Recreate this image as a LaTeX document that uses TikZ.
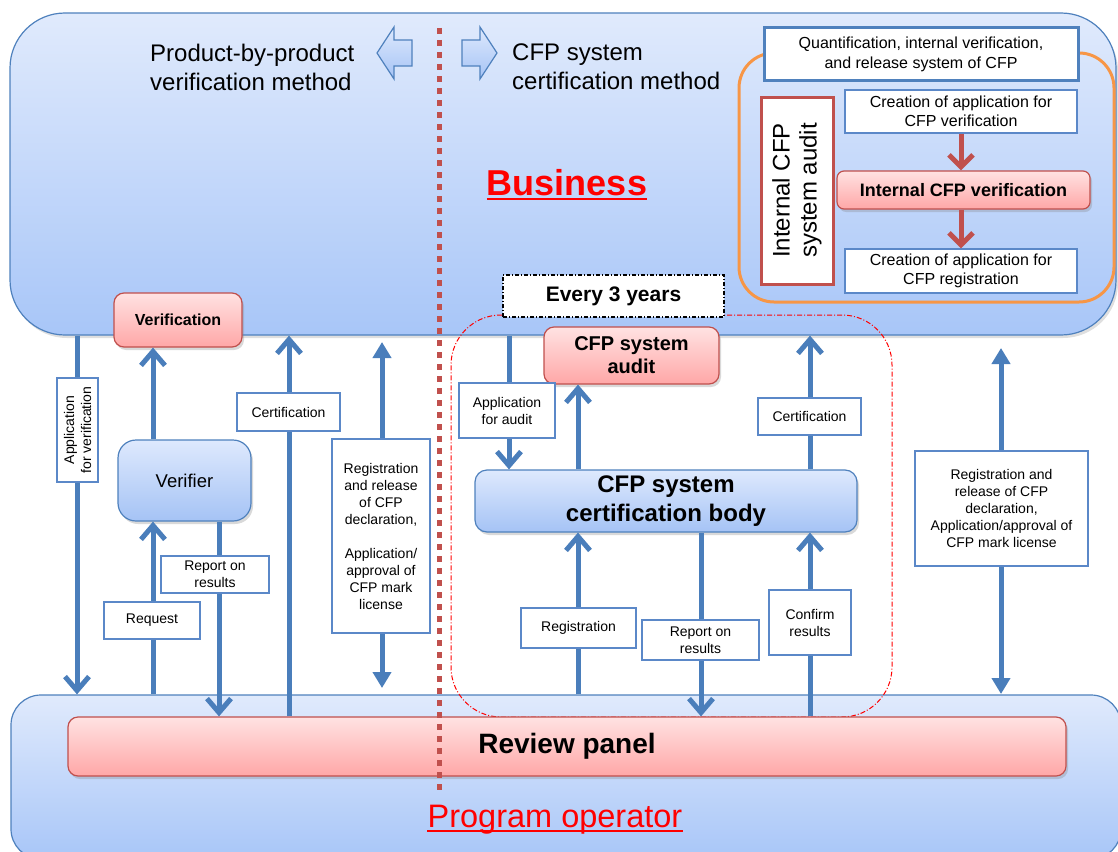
\documentclass[tikz,border=0pt]{standalone}
\usepackage{fontspec}
\setmainfont{Liberation Sans}
\usetikzlibrary{arrows.meta,shadows}
\newcommand\fs[2]{\fontsize{#1}{#2}\selectfont}
\definecolor{boxblue}{HTML}{4F81BD}
\definecolor{lblbd}{HTML}{5B88C8}
\definecolor{arrowblue}{HTML}{4A7EBB}
\definecolor{bgtop}{HTML}{E0EAFC}
\definecolor{bgbot}{HTML}{A8C6F8}
\definecolor{ntop}{HTML}{DEE9FD}
\definecolor{nbot}{HTML}{A5C3F5}
\definecolor{ptop}{HTML}{FFE2E2}
\definecolor{pbot}{HTML}{FFA7A7}
\definecolor{pinkbd}{HTML}{C0504D}
\definecolor{orangebd}{HTML}{F79646}
\definecolor{redtxt}{HTML}{FF0000}
\begin{document}
\begin{tikzpicture}[x=1pt,y=-1pt,
  bgbox/.style={draw=boxblue, line width=1.2pt, top color=bgtop, bottom color=bgbot, inner sep=0pt},
  bluenode/.style={draw=boxblue, line width=1.2pt, top color=ntop, bottom color=nbot, align=center,
     drop shadow={opacity=0.3, shadow xshift=2pt, shadow yshift=-3pt}},
  pinknode/.style={draw=pinkbd, line width=1.2pt, top color=ptop, bottom color=pbot, align=center,
     rounded corners=10pt, drop shadow={opacity=0.3, shadow xshift=2pt, shadow yshift=-3pt}},
  lbl/.style={draw=lblbd, line width=1.2pt, fill=white, align=center, font=\fs{14}{17}, inner sep=1pt},
  wbox/.style={draw=lblbd, line width=1.2pt, fill=white, align=center, font=\fs{16}{19.5}, inner sep=1pt},
  flow/.style={draw=arrowblue, line width=5pt, -{Straight Barb[length=14pt,width=24pt]}},
  dflow/.style={draw=arrowblue, line width=5pt, {Triangle[length=16pt,width=18pt]}-{Triangle[length=16pt,width=18pt]}},
  rflow/.style={draw=pinkbd, line width=5pt, -{Straight Barb[length=12pt,width=24pt]}},
  barrow/.style={draw=boxblue, line width=1.2pt, top color=ntop, bottom color=nbot},
  ttl/.style={align=left, font=\fs{24}{29}, inner sep=0pt, anchor=west}
]
\useasboundingbox (0,0) rectangle (1118,851);

% backgrounds
\node[bgbox, rounded corners=55pt, minimum width=1106pt, minimum height=322pt,
  drop shadow={opacity=0.25, shadow xshift=2pt, shadow yshift=-3pt}] (business) at (563,174) {};
\node[bgbox, rounded corners=30pt, minimum width=1110pt, minimum height=164pt] (oper) at (566,777) {};

% column coordinates
\coordinate (xA) at (77,0);
\coordinate (xB) at (153,0);
\coordinate (xC) at (219,0);
\coordinate (xD) at (289,0);
\coordinate (xF) at (509,0);
\coordinate (xG) at (578,0);
\coordinate (xH) at (701,0);
\coordinate (xI) at (810,0);
\coordinate (e1) at (382,342);
\coordinate (e2) at (382,688);
\coordinate (j1) at (1001,348);
\coordinate (j2) at (1001,694);
\coordinate (dtop) at (439,28);
\coordinate (dbot) at (439,793);

% top right process
\node[draw=orangebd, line width=3pt, rounded corners=35pt, minimum width=375pt, minimum height=249pt] (orangebox) at (926.5,177.5) {};
\node[draw=boxblue, line width=3pt, fill=white, align=center, font=\fs{16}{20}, minimum width=314pt, minimum height=52pt, inner sep=1pt] (quant) at (921,54) {Quantification, internal verification,\\and release system of CFP};
\node[draw=pinkbd, line width=3pt, fill=white, align=center, font=\fs{24}{27}, rotate=90, minimum width=187pt, minimum height=72pt, inner sep=1pt] (icsa) at (797,190.5) {Internal CFP\\system audit};
\node[wbox, minimum width=232pt, minimum height=43pt] (cr1) at (961,111.5) {Creation of application for\\CFP verification};
\node[pinknode, rounded corners=7pt, font=\fs{18}{20}\bfseries, minimum width=253pt, minimum height=38pt] (icv) at (963.5,190) {Internal CFP verification};
\node[wbox, minimum width=232pt, minimum height=44pt] (cr2) at (961,271) {Creation of application for\\CFP registration};
\draw[rflow] (cr1.south) -- (cr1.south |- icv.north);
\draw[rflow] (icv.south -| cr2.north) -- (cr2.north);

% block arrows and titles
\draw[barrow] (412,40) -- (394,40) -- (394,27) -- (377,53) -- (394,79) -- (394,66) -- (412,66) -- cycle;
\draw[barrow] (462,40) -- (480,40) -- (480,27) -- (497,53) -- (480,79) -- (480,66) -- (462,66) -- cycle;
\node[ttl] (ptitle) at (150,67.5) {Product-by-product\\verification method};
\node[ttl] (ctitle) at (512,66.5) {CFP system\\certification method};

% Business label
\node[inner sep=0pt, anchor=base, text=redtxt, font=\fs{36}{40}\bfseries] (bus) at (567,195) {Business};
\draw[redtxt, line width=2.4pt] ([yshift=-4pt]bus.base west) -- ([yshift=-4pt]bus.base east);

% dash-dot region and every 3 years
\node[draw=redtxt, line width=1pt, dash pattern=on 5pt off 2pt on 1pt off 2pt, rounded corners=50pt,
  minimum width=441pt, minimum height=402pt] (region) at (671.5,516) {};
\node[draw=black, line width=1.2pt, dash pattern=on 4pt off 2pt on 1pt off 2pt, fill=white,
  font=\fs{21}{24}\bfseries, minimum width=221pt, minimum height=42pt, inner sep=1pt] (every) at (613.5,296) {Every 3 years};

% main nodes
\node[pinknode, font=\fs{28}{30}\bfseries, minimum width=998pt, minimum height=59pt] (review) at (567,746.5) {Review panel};
\node[pinknode, font=\fs{16}{19}\bfseries, minimum width=128pt, minimum height=54pt] (verif) at (178,320) {Verification};
\node[pinknode, font=\fs{20}{23}\bfseries, minimum width=175pt, minimum height=57pt, inner sep=1pt] (audit) at (631.5,355.5) {CFP system\\audit};
\node[bluenode, rounded corners=18pt, font=\fs{18.5}{21}, minimum width=133pt, minimum height=81pt] (verifier) at (184.5,480.5) {Verifier};
\node[bluenode, rounded corners=12pt, font=\fs{24}{29}\bfseries, minimum width=382pt, minimum height=62pt, inner sep=1pt] (body) at (666,501) {CFP system\\certification body};

% connectors
\draw[flow] (business.south -| xA) -- (oper.north -| xA);
\draw[flow] (verifier.north -| xB) -- (verif.south -| xB);
\draw[flow] (oper.north -| xB) -- (verifier.south -| xB);
\draw[flow] (verifier.south -| xC) -- (review.north -| xC);
\draw[flow] (review.north -| xD) -- (business.south -| xD);
\draw[dflow] (e1) -- (e2);
\draw[flow] (business.south -| xF) -- (body.north -| xF);
\draw[flow] (body.north -| xG) -- (audit.south -| xG);
\draw[flow] (body.north -| xI) -- (business.south -| xI);
\draw[flow] (oper.north -| xG) -- (body.south -| xG);
\draw[flow] (body.south -| xH) -- (review.north -| xH);
\draw[flow] (review.north -| xI) -- (body.south -| xI);
\draw[dflow] (j1) -- (j2);

% labels
\node[lbl, rotate=90, minimum width=104pt, minimum height=41pt] (lA) at (77.5,430) {Application\\for verification};
\node[lbl, minimum width=96pt, minimum height=37pt] (lReq) at (152,620.5) {Request};
\node[lbl, minimum width=108pt, minimum height=37pt] (lRep1) at (215,574.5) {Report on\\results};
\node[lbl, minimum width=103pt, minimum height=38pt] (lCert1) at (288.5,412) {Certification};
\node[lbl, minimum width=98pt, minimum height=194pt] (lReg1) at (381,536) {Registration\\and release\\of CFP\\declaration,\\[17pt]Application/\\approval of\\CFP mark\\license};
\node[lbl, minimum width=96pt, minimum height=55pt] (lAud) at (507,410.5) {Application\\for audit};
\node[lbl, minimum width=103pt, minimum height=37pt] (lCert2) at (809.5,416.5) {Certification};
\node[lbl, minimum width=115pt, minimum height=40pt] (lReg2) at (578.5,628) {Registration};
\node[lbl, minimum width=117pt, minimum height=40pt] (lRep2) at (700.5,640) {Report on\\results};
\node[lbl, minimum width=82pt, minimum height=65pt] (lConf) at (810,622.5) {Confirm\\results};
\node[lbl, minimum width=173pt, minimum height=115pt] (lReg3) at (1001.5,508.5) {Registration and\\release of CFP\\declaration,\\Application/approval of\\CFP mark license};

% program operator label
\node[inner sep=0pt, anchor=base, text=redtxt, font=\fs{32.5}{36}] (prog) at (555,827) {Program operator};
\draw[redtxt, line width=2pt] ([yshift=-4pt]prog.base west) -- ([yshift=-4pt]prog.base east);

% divider
\draw[pinkbd, line width=5pt, dash pattern=on 6pt off 6pt] (dtop) -- (dbot);
\end{tikzpicture}
\end{document}
